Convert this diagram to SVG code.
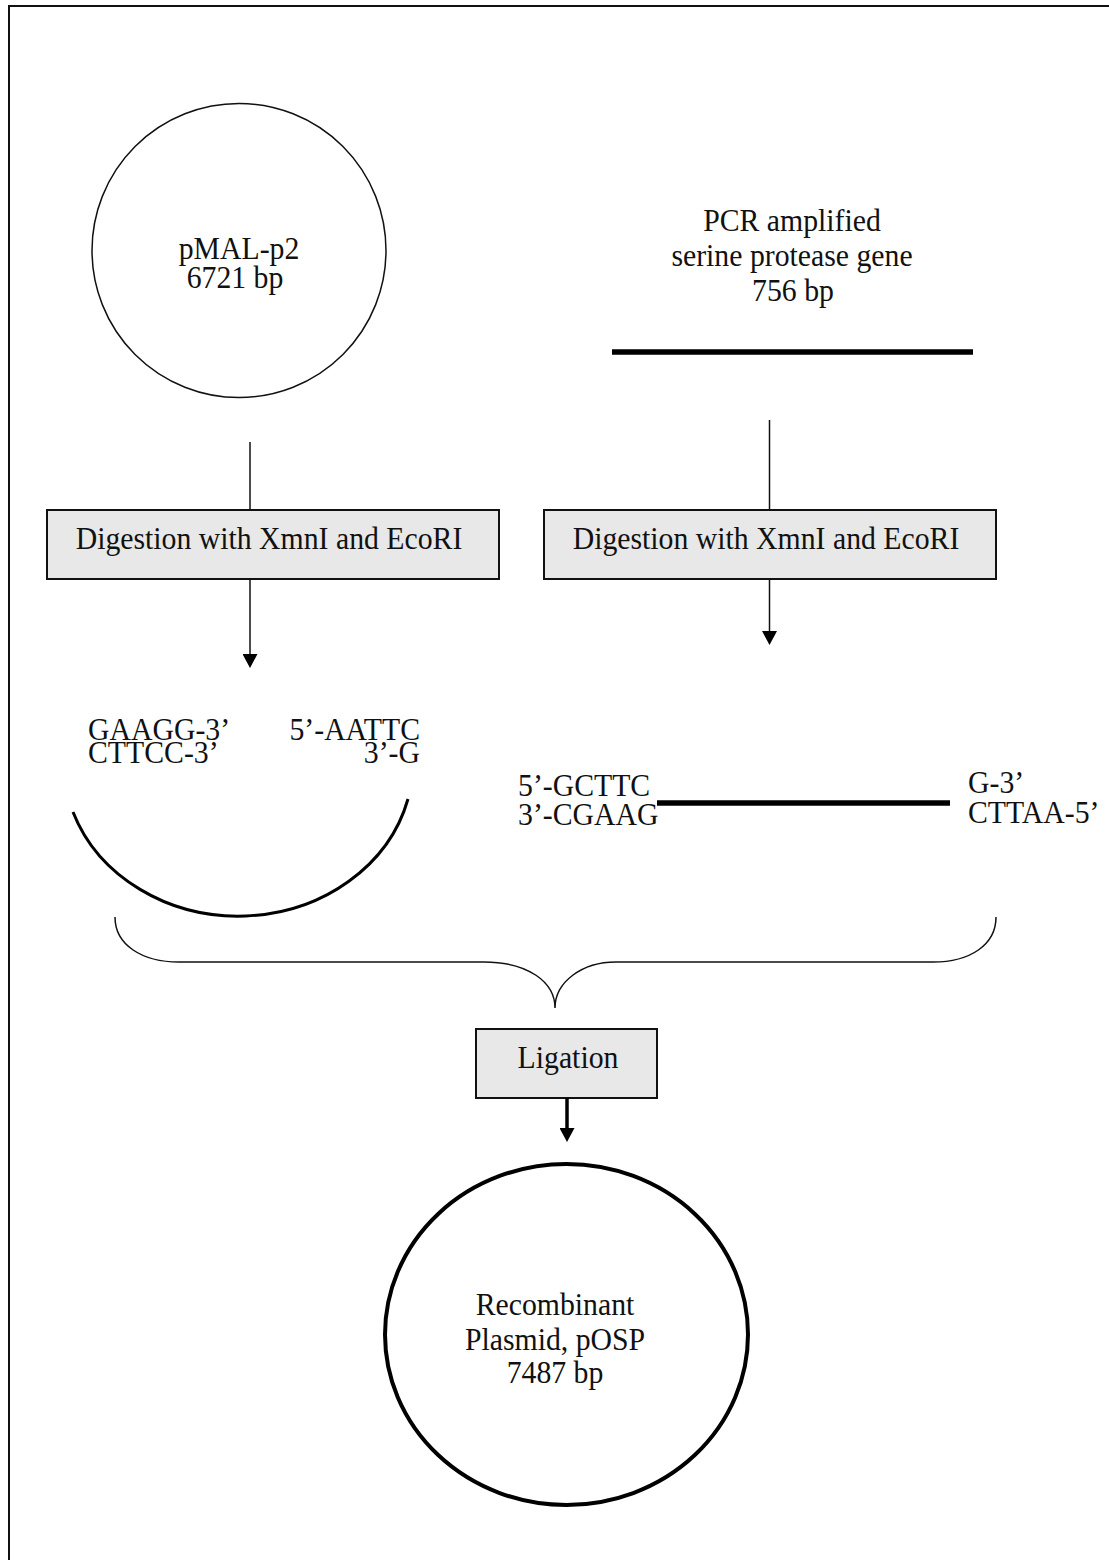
<svg xmlns="http://www.w3.org/2000/svg" width="1109" height="1560" viewBox="0 0 1109 1560">
<style>
text{font-family:"Liberation Serif","Times New Roman",serif;font-size:32px;fill:#111}
.c{text-anchor:middle}
.e{text-anchor:end}
.box{fill:#e8e8e8;stroke:#111;stroke-width:2}
.ln{stroke:#111;stroke-width:1.5;fill:none}
.thick{stroke:#000;stroke-width:5.5;fill:none}
</style>
<defs>
<marker id="ah" markerUnits="userSpaceOnUse" markerWidth="15" markerHeight="15" refX="0" refY="7.5" orient="auto">
<path d="M0,0 L14,7.5 L0,15 Z" fill="#000"/>
</marker>
</defs>
<rect width="1109" height="1560" fill="#fff"/>
<path d="M9,1560 V6 H1109" fill="none" stroke="#111" stroke-width="2"/>

<g id="pmal">
<circle cx="239" cy="250.5" r="147" class="ln" stroke-width="1.7"/>
<text class="c" transform="translate(239,259) scale(0.93,1)">pMAL-p2</text>
<text class="c" transform="translate(235,288) scale(0.93,1)">6721 bp</text>
</g>

<g id="pcr">
<text class="c" transform="translate(792,231) scale(0.93,1)">PCR amplified</text>
<text class="c" transform="translate(792,266) scale(0.93,1)">serine protease gene</text>
<text class="c" transform="translate(793,301) scale(0.93,1)">756 bp</text>
<line x1="612" y1="352" x2="973" y2="352" class="thick"/>
</g>

<g id="digest-left">
<rect x="47" y="510" width="452" height="69" class="box"/>
<text class="c" transform="translate(269,549) scale(0.93,1)">Digestion with XmnI and EcoRI</text>
</g>

<g id="digest-right">
<rect x="544" y="510" width="452" height="69" class="box"/>
<text class="c" transform="translate(766,549) scale(0.93,1)">Digestion with XmnI and EcoRI</text>
</g>

<g id="vector-fragment">
<text transform="translate(88,740) scale(0.93,1)">GAAGG-3’</text>
<text transform="translate(88,763) scale(0.93,1)">CTTCC-3’</text>
<text class="e" transform="translate(420,740) scale(0.93,1)">5’-AATTC</text>
<text class="e" transform="translate(420,763) scale(0.93,1)">3’-G</text>
<path d="M73,812 A175,155 0 0 0 408,799" fill="none" stroke="#000" stroke-width="3"/>
</g>

<g id="insert-fragment">
<text transform="translate(518,796) scale(0.93,1)">5’-GCTTC</text>
<text transform="translate(518,825) scale(0.93,1)">3’-CGAAG</text>
<text transform="translate(968,793) scale(0.93,1)">G-3’</text>
<text transform="translate(968,823) scale(0.93,1)">CTTAA-5’</text>
<line x1="657" y1="803" x2="950" y2="803" class="thick" stroke-width="5"/>
</g>

<g id="brace">
<path d="M115,917 C115,945 142,962 179,962 H484 C528,962 555,982 555,1008 C555,982 582,962 616,962 H933 C970,962 996,945 996,917" class="ln"/>
</g>

<g id="ligation">
<rect x="476" y="1029" width="181" height="69" class="box"/>
<text class="c" transform="translate(568,1068) scale(0.93,1)">Ligation</text>
</g>

<g id="recombinant">
<ellipse cx="566.5" cy="1334.5" rx="181.5" ry="170.5" fill="none" stroke="#000" stroke-width="4"/>
<text class="c" transform="translate(555,1315) scale(0.93,1)">Recombinant</text>
<text class="c" transform="translate(555,1350) scale(0.93,1)">Plasmid, pOSP</text>
<text class="c" transform="translate(555,1383) scale(0.93,1)">7487 bp</text>
</g>

<g id="connectors">
<line x1="250" y1="442" x2="250" y2="510" class="ln"/>
<line x1="769.5" y1="420" x2="769.5" y2="510" class="ln"/>
<line x1="250" y1="579" x2="250" y2="654" class="ln" marker-end="url(#ah)"/>
<line x1="769.5" y1="579" x2="769.5" y2="631" class="ln" marker-end="url(#ah)"/>
<line x1="567" y1="1098" x2="567" y2="1128" stroke="#000" stroke-width="3.5" marker-end="url(#ah)"/>
</g>
</svg>
